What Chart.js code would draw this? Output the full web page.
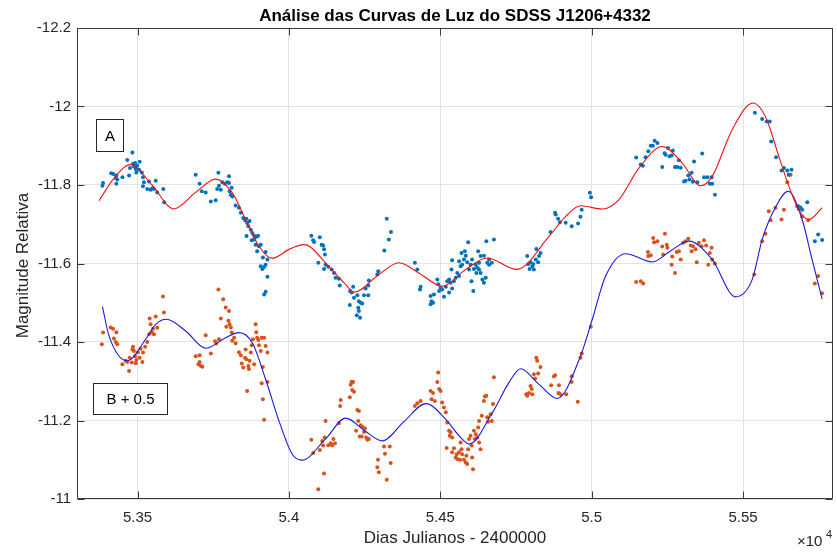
<!DOCTYPE html>
<html>
<head>
<meta charset="utf-8">
<script src="https://cdn.jsdelivr.net/npm/chart.js@4/dist/chart.umd.min.js"></script>
<style>
html,body{margin:0;padding:0;background:#fff;}
#c{display:block;}
</style>
</head>
<body>
<canvas id="c" width="837" height="553"></canvas>
<script>
// ---- Data ----
const xTicks = [53500, 54000, 54500, 55000, 55500];
const xTickLabels = ['5.35', '5.4', '5.45', '5.5', '5.55'];
const yTicks = [-12.2, -12, -11.8, -11.6, -11.4, -11.2, -11];
const yTickLabels = ['-12.2', '-12', '-11.8', '-11.6', '-11.4', '-11.2', '-11'];

// Series A (blue dots)
const aX = [53384,53386,53413,53420,53428,53430,53433,53430,53450,53466,53472,53475,53483,53485,53488,53492,53494,53496,53499,53505,53507,53514,53518,53521,53518,53532,53538,53543,53549,53554,53560,53565,53585,53588,
53692,53705,53712,53725,53742,53758,53767,53763,53769,53775,53780,53788,53796,53802,53802,53804,53808,53813,53811,53824,53835,53841,53849,53855,53859,53862,53866,53870,53874,53879,53885,53892,53898,53860,53877,53885,53890,53901,53907,53895,53923,53914,53929,53907,53918,53912,53923,53929,53923,53918,
54074,54080,54083,54102,54108,54113,54116,54119,54097,54121,54130,54141,54116,54149,54154,54165,54168,54202,54207,54212,54215,54226,54231,54237,54242,54201,54229,54231,54224,54235,54248,54253,54262,54264,54292,54295,54262,54315,54330,54337,54323,54416,54424,54435,54433,
54468,54471,54468,54476,54479,54490,54493,54496,54501,54506,54512,54518,54523,54529,54534,54529,54539,54545,54551,54556,54562,54567,54572,54578,54581,54584,54589,54592,54595,54600,54605,54603,54609,54617,54622,54625,54628,54633,54639,54644,54650,54652,54655,54661,54670,54677,54539,54537,54562,54570,54611,54619,54628,54633,54644,54661,
54787,54790,54798,54804,54809,54815,54817,54823,54795,54807,54826,54831,54864,54879,54881,54889,54895,54914,54934,54955,54963,54967,54994,54998,
55147,55162,55169,55178,55187,55195,55202,55208,55217,55233,55241,55244,55252,55257,55264,55268,55275,55283,55288,55294,55305,55310,55319,55323,55330,55338,55334,55349,55365,55371,55382,55390,55396,55398,55407,
55539,55563,55578,55588,55593,55609,55627,55635,55646,55660,55651,55679,55684,55690,55695,55712,55737,55748,55761];
const aY = [-11.798,-11.805,-11.830,-11.828,-11.818,-11.824,-11.814,-11.803,-11.820,-11.864,-11.824,-11.843,-11.883,-11.854,-11.847,-11.856,-11.841,-11.832,-11.849,-11.839,-11.859,-11.832,-11.820,-11.807,-11.797,-11.790,-11.809,-11.788,-11.792,-11.790,-11.811,-11.781,-11.790,-11.756,
-11.826,-11.803,-11.784,-11.781,-11.758,-11.761,-11.831,-11.790,-11.798,-11.788,-11.807,-11.803,-11.807,-11.822,-11.805,-11.784,-11.775,-11.771,-11.793,-11.748,-11.742,-11.729,-11.716,-11.710,-11.714,-11.703,-11.695,-11.708,-11.686,-11.678,-11.671,-11.668,-11.671,-11.670,-11.659,-11.661,-11.648,-11.644,-11.648,-11.631,-11.629,-11.615,-11.610,-11.593,-11.591,-11.586,-11.597,-11.566,-11.528,-11.521,
-11.671,-11.659,-11.655,-11.667,-11.648,-11.646,-11.636,-11.623,-11.602,-11.597,-11.592,-11.585,-11.586,-11.576,-11.564,-11.561,-11.544,-11.530,-11.526,-11.541,-11.513,-11.519,-11.504,-11.500,-11.498,-11.494,-11.487,-11.479,-11.468,-11.462,-11.519,-11.536,-11.544,-11.557,-11.572,-11.580,-11.519,-11.633,-11.661,-11.680,-11.714,-11.602,-11.585,-11.541,-11.534,
-11.517,-11.504,-11.496,-11.500,-11.521,-11.559,-11.547,-11.530,-11.538,-11.534,-11.515,-11.541,-11.555,-11.559,-11.551,-11.526,-11.536,-11.555,-11.564,-11.576,-11.568,-11.593,-11.597,-11.610,-11.631,-11.620,-11.603,-11.654,-11.585,-11.597,-11.610,-11.555,-11.530,-11.597,-11.589,-11.631,-11.602,-11.576,-11.559,-11.551,-11.564,-11.657,-11.602,-11.610,-11.602,-11.661,-11.608,-11.585,-11.606,-11.627,-11.586,-11.576,-11.585,-11.619,-11.620,-11.597,
-11.619,-11.598,-11.603,-11.593,-11.585,-11.610,-11.637,-11.603,-11.586,-11.599,-11.619,-11.627,-11.680,-11.729,-11.725,-11.714,-11.705,-11.704,-11.695,-11.702,-11.719,-11.737,-11.780,-11.769,
-11.870,-11.852,-11.849,-11.871,-11.886,-11.900,-11.900,-11.913,-11.907,-11.846,-11.881,-11.877,-11.894,-11.873,-11.875,-11.888,-11.846,-11.846,-11.863,-11.844,-11.809,-11.811,-11.824,-11.814,-11.831,-11.860,-11.808,-11.807,-11.880,-11.820,-11.820,-11.803,-11.820,-11.803,-11.775,
-11.984,-11.968,-11.962,-11.962,-11.911,-11.871,-11.837,-11.843,-11.837,-11.839,-11.826,-11.746,-11.739,-11.742,-11.737,-11.756,-11.657,-11.674,-11.660];

// Series B + 0.5 (orange dots)
const bX = [53382,53386,53411,53419,53430,53422,53428,53433,53450,53461,53466,53472,53474,53481,53483,53485,53488,53492,53494,53496,53501,53507,53510,53516,53518,53525,53532,53538,53540,53543,53547,53551,53554,53560,53565,53587,53584,
53692,53701,53705,53709,53714,53705,53725,53742,53756,53760,53767,53769,53775,53783,53791,53793,53800,53802,53804,53808,53811,53813,53819,53824,53835,53844,53849,53855,53859,53862,53866,53870,53874,53877,53881,53885,53890,53892,53895,53899,53901,53907,53910,53914,53918,53923,53929,53910,53914,53918,53929,53857,53868,53841,
54074,54080,54097,54102,54110,54113,54116,54118,54121,54130,54138,54143,54147,54152,54165,54169,54171,54201,54204,54207,54212,54209,54215,54226,54231,54229,54237,54242,54248,54251,54234,54240,54255,54259,54264,54222,54314,54317,54294,54292,54297,54333,54336,54323,
54416,54424,54435,54468,54471,54476,54482,54490,54493,54496,54501,54506,54512,54518,54523,54529,54531,54534,54539,54521,54539,54545,54551,54556,54562,54567,54570,54572,54578,54584,54586,54589,54592,54595,54600,54603,54608,54605,54611,54614,54617,54622,54625,54628,54633,54628,54637,54644,54647,54652,54655,54658,54666,54670,54674,54677,54565,54554,
54784,54787,54793,54798,54802,54804,54809,54813,54817,54820,54823,54831,54866,54875,54879,54892,54890,54897,54916,54934,54934,54954,54963,54967,54997,
55147,55162,55170,55186,55187,55195,55203,55206,55217,55233,55236,55242,55248,55250,55264,55266,55275,55281,55288,55294,55302,55310,55319,55327,55330,55335,55343,55347,55354,55363,55371,55378,55385,55390,55396,55398,55407,
55537,55563,55574,55585,55591,55607,55627,55635,55646,55651,55657,55684,55695,55715,55737,55748,55761];
const bY = [-11.394,-11.424,-11.437,-11.434,-11.425,-11.409,-11.400,-11.394,-11.343,-11.352,-11.349,-11.326,-11.360,-11.348,-11.381,-11.388,-11.377,-11.364,-11.346,-11.354,-11.373,-11.360,-11.383,-11.349,-11.373,-11.388,-11.400,-11.420,-11.460,-11.445,-11.425,-11.434,-11.420,-11.465,-11.436,-11.475,-11.516,
-11.364,-11.343,-11.349,-11.339,-11.337,-11.366,-11.417,-11.371,-11.402,-11.396,-11.534,-11.407,-11.460,-11.509,-11.488,-11.439,-11.454,-11.479,-11.445,-11.437,-11.424,-11.403,-11.411,-11.397,-11.374,-11.345,-11.335,-11.360,-11.356,-11.275,-11.339,-11.352,-11.373,-11.392,-11.407,-11.343,-11.445,-11.425,-11.411,-11.405,-11.392,-11.377,-11.411,-11.336,-11.411,-11.390,-11.373,-11.295,-11.254,-11.202,-11.298,-11.381,-11.331,-11.366,
-11.151,-11.117,-11.025,-11.125,-11.148,-11.136,-11.065,-11.157,-11.199,-11.137,-11.142,-11.137,-11.153,-11.142,-11.193,-11.237,-11.252,-11.259,-11.291,-11.299,-11.298,-11.278,-11.273,-11.227,-11.224,-11.199,-11.188,-11.184,-11.171,-11.180,-11.159,-11.159,-11.157,-11.151,-11.153,-11.174,-11.134,-11.115,-11.100,-11.081,-11.068,-11.134,-11.092,-11.049,
-11.237,-11.244,-11.250,-11.275,-11.254,-11.270,-11.250,-11.298,-11.322,-11.280,-11.275,-11.246,-11.233,-11.221,-11.195,-11.174,-11.161,-11.170,-11.157,-11.130,-11.119,-11.129,-11.106,-11.102,-11.119,-11.144,-11.127,-11.114,-11.100,-11.093,-11.110,-11.089,-11.127,-11.153,-11.161,-11.136,-11.076,-11.106,-11.174,-11.153,-11.165,-11.157,-11.182,-11.144,-11.127,-11.199,-11.212,-11.250,-11.261,-11.263,-11.208,-11.197,-11.216,-11.199,-11.242,-11.310,-11.100,-11.114,
-11.267,-11.263,-11.270,-11.288,-11.280,-11.267,-11.318,-11.307,-11.360,-11.352,-11.320,-11.336,-11.290,-11.312,-11.315,-11.290,-11.270,-11.267,-11.267,-11.313,-11.298,-11.248,-11.360,-11.371,-11.439,
-11.553,-11.555,-11.549,-11.629,-11.619,-11.621,-11.665,-11.654,-11.657,-11.643,-11.623,-11.676,-11.648,-11.640,-11.597,-11.618,-11.576,-11.629,-11.631,-11.610,-11.653,-11.657,-11.663,-11.646,-11.631,-11.644,-11.636,-11.603,-11.653,-11.644,-11.659,-11.646,-11.597,-11.627,-11.640,-11.610,-11.600,
-11.572,-11.657,-11.676,-11.733,-11.710,-11.742,-11.712,-11.737,-11.807,-11.826,-11.826,-11.746,-11.719,-11.710,-11.549,-11.568,-11.524];

// Fitted curve for A (red)
const fitAX = [53373,53420,53477,53548,53620,53690,53758,53813,53857,53901,53945,54000,54050,54132,54187,54215,54297,54363,54429,54506,54584,54655,54753,54859,54914,54963,55035,55090,55156,55233,55299,55360,55398,55464,55533,55574,55618,55651,55684,55717,55761];
const fitAY = [-11.760,-11.815,-11.852,-11.800,-11.739,-11.780,-11.815,-11.780,-11.712,-11.644,-11.613,-11.636,-11.648,-11.592,-11.547,-11.527,-11.572,-11.602,-11.576,-11.542,-11.585,-11.614,-11.585,-11.669,-11.720,-11.747,-11.739,-11.763,-11.843,-11.898,-11.856,-11.798,-11.822,-11.941,-12.009,-11.974,-11.873,-11.797,-11.737,-11.712,-11.742];

// Fitted curve for B + 0.5 (blue)
const fitBX = [53384,53406,53466,53527,53560,53595,53659,53725,53791,53835,53879,53923,53967,54011,54043,54121,54187,54250,54308,54380,54452,54518,54562,54595,54672,54727,54765,54826,54886,54963,55002,55046,55112,55200,55260,55321,55398,55475,55530,55563,55605,55649,55695,55728,55761];
const fitBY = [-11.490,-11.415,-11.352,-11.407,-11.445,-11.458,-11.428,-11.384,-11.411,-11.424,-11.398,-11.305,-11.199,-11.114,-11.099,-11.153,-11.206,-11.174,-11.148,-11.197,-11.243,-11.203,-11.161,-11.140,-11.220,-11.297,-11.332,-11.292,-11.256,-11.364,-11.458,-11.568,-11.625,-11.604,-11.632,-11.657,-11.610,-11.515,-11.559,-11.661,-11.740,-11.784,-11.712,-11.610,-11.510];

const titleText = 'Análise das Curvas de Luz do SDSS J1206+4332';
const xTitle = 'Dias Julianos - 2400000';
const yTitle = 'Magnitude Relativa';
const labelA = 'A';
const labelB = 'B + 0.5';

// ---- build ----
const FONT = '"Liberation Sans", Arial, Helvetica, sans-serif';
const INK = '#262626';
const pts = (xs, ys) => xs.map((x, i) => ({x: x, y: ys[i]}));

const framePlugin = {
  id: 'frame',
  afterDraw(chart) {
    const ctx = chart.ctx;
    const a = chart.chartArea;
    const xs = chart.scales.x, ys = chart.scales.y;
    ctx.save();
    ctx.strokeStyle = '#3a3a3a';
    ctx.lineWidth = 1;
    const L = Math.round(a.left) + 0.5, R = Math.round(a.right) - 0.5;
    const T = Math.round(a.top) + 0.5, B = Math.round(a.bottom) - 0.5;
    ctx.beginPath();
    ctx.rect(L, T, R - L, B - T);
    ctx.stroke();
    const tl = 7;
    ctx.beginPath();
    xTicks.forEach(v => {
      const px = Math.round(xs.getPixelForValue(v)) + 0.5;
      ctx.moveTo(px, B); ctx.lineTo(px, B - tl);
      ctx.moveTo(px, T); ctx.lineTo(px, T + tl);
    });
    yTicks.forEach(v => {
      const py = Math.round(ys.getPixelForValue(v)) + 0.5;
      ctx.moveTo(L, py); ctx.lineTo(L + tl, py);
      ctx.moveTo(R, py); ctx.lineTo(R - tl, py);
    });
    ctx.stroke();

    ctx.fillStyle = '#000';
    ctx.font = 'bold 17px ' + FONT;
    ctx.textAlign = 'center';
    ctx.textBaseline = 'alphabetic';
    ctx.fillText(titleText, (a.left + a.right) / 2, 21);

    ctx.fillStyle = INK;
    ctx.font = '17px ' + FONT;
    ctx.fillText(xTitle, (a.left + a.right) / 2, 543);

    ctx.textAlign = 'left';
    ctx.font = '15px ' + FONT;
    ctx.fillText('\u00d710', 797, 546);
    ctx.font = '11px ' + FONT;
    ctx.fillText('4', 826, 538);

    ctx.save();
    ctx.translate(23, (a.top + a.bottom) / 2 + 2);
    ctx.rotate(-Math.PI / 2);
    ctx.textAlign = 'center';
    ctx.textBaseline = 'middle';
    ctx.font = '17px ' + FONT;
    ctx.fillText(yTitle, 0, 0);
    ctx.restore();

    ctx.strokeStyle = '#262626';
    ctx.lineWidth = 1;
    ctx.font = '15px ' + FONT;
    ctx.textAlign = 'center';
    ctx.textBaseline = 'middle';
    let bx = Math.round(a.left) + 19.5, by = Math.round(a.top) + 91.5;
    ctx.fillStyle = '#fff';
    ctx.fillRect(bx, by, 27, 32);
    ctx.strokeRect(bx, by, 27, 32);
    ctx.fillStyle = '#000';
    ctx.fillText(labelA, bx + 13.5, by + 17);
    bx = Math.round(a.left) + 16.5; by = Math.round(a.top) + 355.5;
    ctx.fillStyle = '#fff';
    ctx.fillRect(bx, by, 74, 31);
    ctx.strokeRect(bx, by, 74, 31);
    ctx.fillStyle = '#000';
    ctx.fillText(labelB, bx + 37, by + 16.5);
    ctx.restore();
  }
};

new Chart(document.getElementById('c'), {
  type: 'scatter',
  data: {
    datasets: [
      { label: 'fitA', data: pts(fitAX, fitAY), showLine: true, borderColor: '#f01010', borderWidth: 1.1,
        pointRadius: 0, cubicInterpolationMode: 'monotone', fill: false },
      { label: 'fitB', data: pts(fitBX, fitBY), showLine: true, borderColor: '#1a1ae0', borderWidth: 1.1,
        pointRadius: 0, cubicInterpolationMode: 'monotone', fill: false },
      { label: 'A', data: pts(aX, aY), pointRadius: 2, pointBackgroundColor: '#0072BD', pointBorderWidth: 0, showLine: false },
      { label: 'B', data: pts(bX, bY), pointRadius: 2, pointBackgroundColor: '#D95319', pointBorderWidth: 0, showLine: false }
    ]
  },
  options: {
    responsive: false,
    animation: false,
    events: [],
    layout: { padding: { top: 28, right: 3, left: 0, bottom: 0 } },
    plugins: { legend: { display: false }, tooltip: { enabled: false }, title: { display: false } },
    scales: {
      x: {
        type: 'linear', min: 53300, max: 55797,
        afterBuildTicks: s => { s.ticks = xTicks.map(v => ({ value: v })); },
        afterFit: s => { s.height = 54; },
        grid: { color: '#e2e2e2', drawTicks: false, lineWidth: 1 },
        border: { display: false },
        ticks: { padding: 10, color: INK, font: { family: FONT, size: 15 }, maxRotation: 0, autoSkip: false,
                 callback: (v, i) => xTickLabels[i] }
      },
      y: {
        type: 'linear', reverse: true, min: -12.2, max: -11,
        afterBuildTicks: s => { s.ticks = yTicks.map(v => ({ value: v })); },
        afterFit: s => { s.width = 77; },
        grid: { color: '#e2e2e2', drawTicks: false, lineWidth: 1 },
        border: { display: false },
        ticks: { padding: 6, color: INK, font: { family: FONT, size: 15 }, autoSkip: false,
                 callback: (v, i) => yTickLabels[i] }
      }
    }
  },
  plugins: [framePlugin]
});
</script>
</body>
</html>
